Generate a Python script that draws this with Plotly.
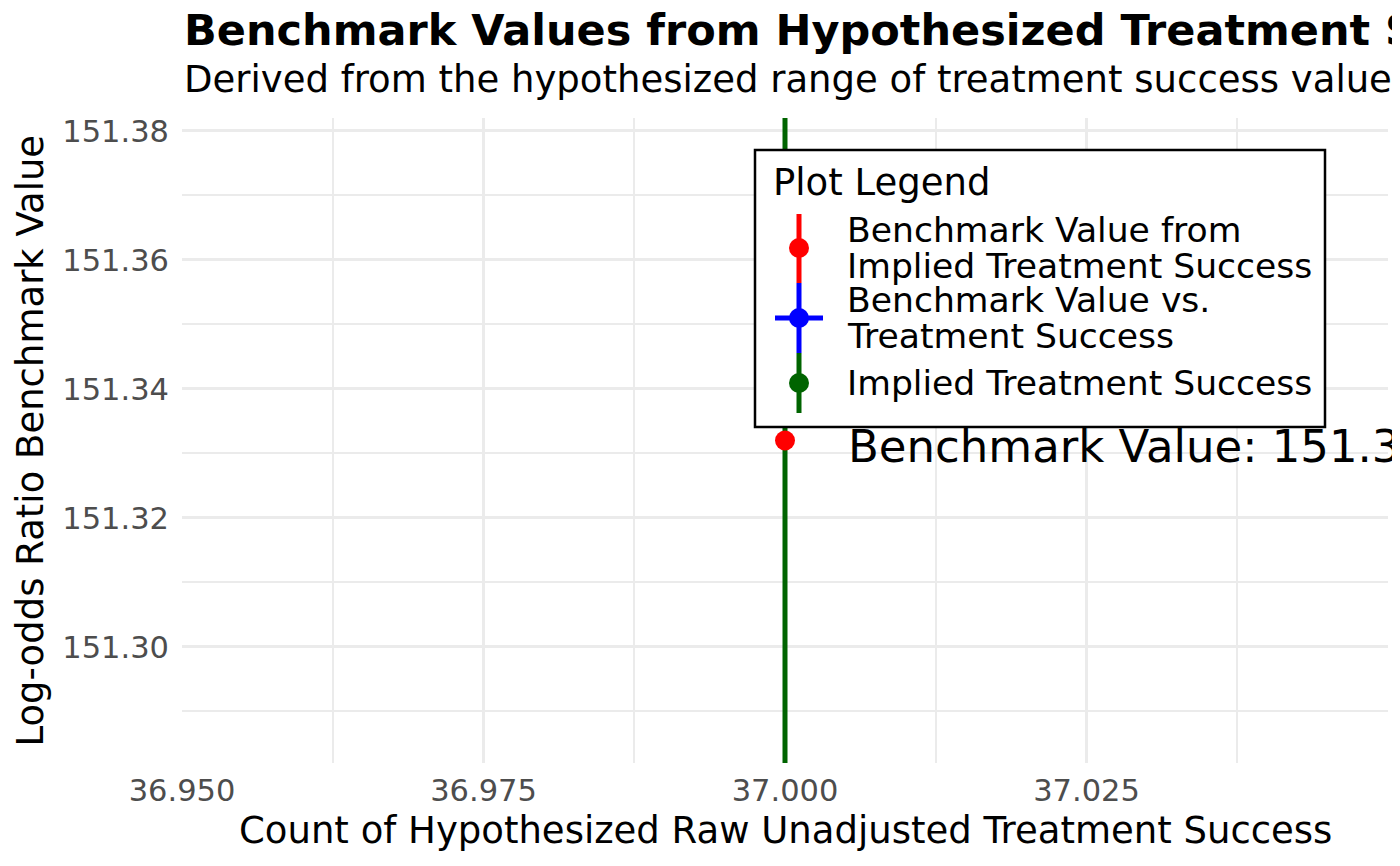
import plotly.graph_objects as go

# --- data -------------------------------------------------------------
IMPLIED_SUCCESS = 37.0          # implied treatment success (count)
BENCHMARK = 151.332             # benchmark log-odds value
X_RANGE = [36.95, 37.05]
Y_RANGE = [151.282, 151.382]
X_TICKS = [36.950, 36.975, 37.000, 37.025]
X_MINOR = [36.9625, 36.9875, 37.0125, 37.0375]
Y_TICKS = [151.30, 151.32, 151.34, 151.36, 151.38]
Y_MINOR = [151.29, 151.31, 151.33, 151.35, 151.37]
LEGEND_NAMES = [["Benchmark Value from", "Implied Treatment Success"],
                ["Benchmark Value vs.", "Treatment Success"],
                ["Implied Treatment Success"]]
LEGEND_COLORS = ["#FF0000", "#0000FF", "#006400"]

TITLE = "Benchmark Values from Hypothesized Treatment Success"
SUBTITLE = "Derived from the hypothesized range of treatment success values"
LABEL = f"Benchmark Value: {BENCHMARK:.2f}"

# --- layout helpers ---------------------------------------------------
W, H = 1400, 866
OFF = 8                       # page body margin
ML, MR, MT, MB = 174, 20, 110, 111
PW, PH = W - ML - MR, H - MT - MB
FONT = "DejaVu Sans"
GRID = "#EBEBEB"


def px(x):
    return (x - OFF - ML) / PW


def py(y):
    return 1 - (y - OFF - MT) / PH


fig = go.Figure()

# implied treatment success: vertical line across the panel
fig.add_trace(go.Scatter(x=[IMPLIED_SUCCESS, IMPLIED_SUCCESS], y=Y_RANGE, mode="lines",
                         line=dict(color="#006400", width=5), cliponaxis=True,
                         name="Implied Treatment Success", showlegend=False,
                         hoverinfo="x"))
fig.add_trace(go.Scatter(x=[IMPLIED_SUCCESS], y=[BENCHMARK], mode="markers",
                         marker=dict(color="#FF0000", size=20),
                         name="Benchmark Value from Implied Treatment Success",
                         showlegend=False, hoverinfo="x+y"))

# legend box, drawn by hand to get ggplot-like keys
shapes = [dict(type="rect", xref="paper", yref="paper", x0=px(755), x1=px(1325),
               y0=py(427), y1=py(150), fillcolor="white",
               line=dict(color="black", width=2.5), layer="above")]
KX = px(799)
seg = [(214, 283), (283, 353), (353, 413)]
dots = [248, 318, 383]
for (a, b), c in zip(seg, LEGEND_COLORS):
    shapes.append(dict(type="line", xref="paper", yref="paper", x0=KX, x1=KX,
                       y0=py(b), y1=py(a), line=dict(color=c, width=5), layer="above"))
shapes.append(dict(type="line", xref="paper", yref="paper", x0=px(775), x1=px(823),
                   y0=py(318), y1=py(318), line=dict(color=LEGEND_COLORS[1], width=5),
                   layer="above"))
for d, c in zip(dots, LEGEND_COLORS):
    shapes.append(dict(type="circle", xref="paper", yref="paper", xsizemode="pixel",
                       ysizemode="pixel", xanchor=KX, yanchor=py(d), x0=-10, x1=10,
                       y0=-10, y1=10, fillcolor=c, line=dict(width=0), layer="above"))


def txt(text, x, baseline, size, bold=False, **kw):
    return dict(text=f"<b>{text}</b>" if bold else text, xref="paper", yref="paper",
                x=px(x), y=py(baseline - 0.35 * size), xanchor="left", yanchor="middle",
                showarrow=False, font=dict(family=FONT, size=size, color="black"), **kw)


annotations = [
    txt(TITLE, 182, 45, 43, bold=True),
    txt(SUBTITLE, 182, 92, 37),
    txt("Plot Legend", 771, 195, 37),
]
baselines = [[242, 278], [312, 348], [395]]
for lines, bl in zip(LEGEND_NAMES, baselines):
    for t, b in zip(lines, bl):
        annotations.append(txt(t, 845, b, 34.6))

annotations.append(dict(text=LABEL, x=IMPLIED_SUCCESS, y=BENCHMARK, xref="x", yref="y",
                        xanchor="left", yanchor="middle", xshift=61, yshift=-6,
                        showarrow=False, font=dict(family=FONT, size=45, color="black")))
annotations.append(dict(text="Count of Hypothesized Raw Unadjusted Treatment Success",
                        xref="paper", yref="paper", x=0.5, y=0, yshift=-67,
                        xanchor="center", yanchor="middle", showarrow=False,
                        font=dict(family=FONT, size=37, color="black")))
annotations.append(dict(text="Log-odds Ratio Benchmark Value", xref="paper", yref="paper",
                        x=0, y=0.5, xshift=-152, textangle=-90, xanchor="center",
                        yanchor="middle", showarrow=False,
                        font=dict(family=FONT, size=37, color="black")))

fig.update_layout(
    width=W, height=H, margin=dict(l=ML, r=MR, t=MT, b=MB),
    plot_bgcolor="white", paper_bgcolor="white",
    font=dict(family=FONT, color="black"),
    showlegend=False, shapes=shapes, annotations=annotations,
)
fig.update_xaxes(range=X_RANGE, tickvals=X_TICKS, tickformat=".3f",
                 showgrid=True, gridcolor=GRID, gridwidth=3, zeroline=False,
                 showline=False, ticks="", ticklabelstandoff=6,
                 tickfont=dict(family=FONT, size=30.5, color="#4D4D4D"),
                 minor=dict(tickvals=X_MINOR, showgrid=True, gridcolor=GRID, gridwidth=1.5))
fig.update_yaxes(range=Y_RANGE, tickvals=Y_TICKS, tickformat=".2f",
                 showgrid=True, gridcolor=GRID, gridwidth=3, zeroline=False,
                 showline=False, ticks="", ticklabelstandoff=12,
                 tickfont=dict(family=FONT, size=30.5, color="#4D4D4D"),
                 minor=dict(tickvals=Y_MINOR, showgrid=True, gridcolor=GRID, gridwidth=1.5))

fig.write_html("out.html")
